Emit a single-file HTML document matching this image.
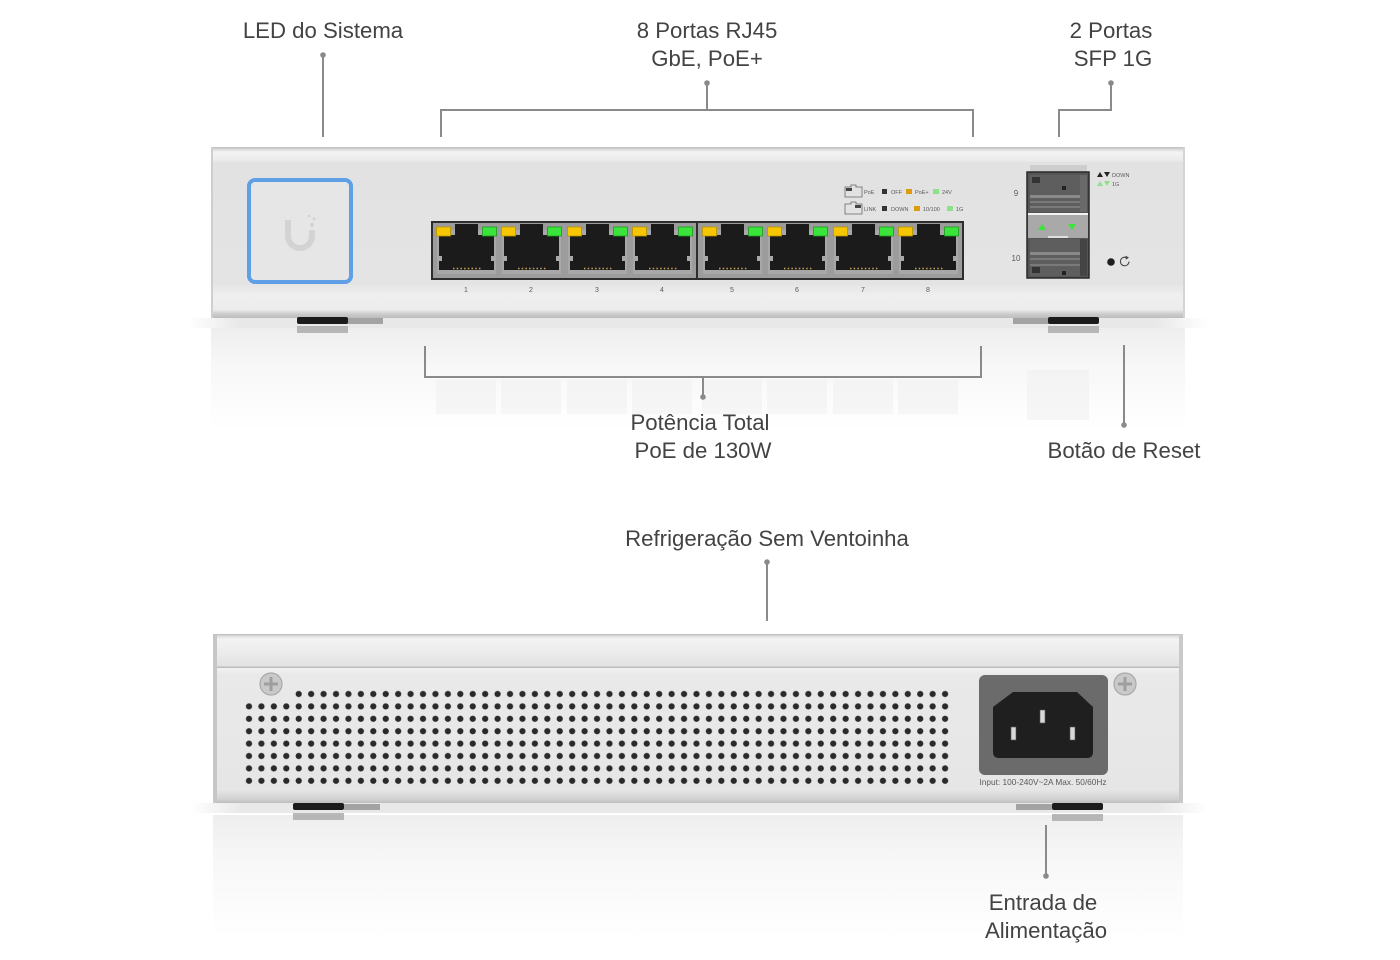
<!DOCTYPE html>
<html><head><meta charset="utf-8"><style>
html,body{margin:0;padding:0;background:#fff;}
svg{display:block;}
.lbl{font-family:"Liberation Sans",sans-serif;font-size:22.2px;fill:#434343;text-anchor:middle;}
.sm{font-family:"Liberation Sans",sans-serif;fill:#5a5a5a;}
</style></head><body>
<svg width="1400" height="960" viewBox="0 0 1400 960" xmlns="http://www.w3.org/2000/svg">
<defs>
  <linearGradient id="frontBody" x1="0" y1="147" x2="0" y2="318" gradientUnits="userSpaceOnUse">
    <stop offset="0" stop-color="#bdbdbd"/>
    <stop offset="0.015" stop-color="#dcdcdc"/>
    <stop offset="0.03" stop-color="#f3f3f3"/>
    <stop offset="0.075" stop-color="#ececec"/>
    <stop offset="0.09" stop-color="#e2e2e2"/>
    <stop offset="0.8" stop-color="#e4e4e4"/>
    <stop offset="0.87" stop-color="#efefef"/>
    <stop offset="0.95" stop-color="#ececec"/>
    <stop offset="0.98" stop-color="#c9c9c9"/>
    <stop offset="1" stop-color="#bdbdbd"/>
  </linearGradient>
  <linearGradient id="backTop" x1="0" y1="634" x2="0" y2="668" gradientUnits="userSpaceOnUse">
    <stop offset="0" stop-color="#b8b8b8"/>
    <stop offset="0.06" stop-color="#dedede"/>
    <stop offset="0.15" stop-color="#f3f3f3"/>
    <stop offset="0.6" stop-color="#ebebeb"/>
    <stop offset="0.93" stop-color="#e2e2e2"/>
    <stop offset="1" stop-color="#b2b2b2"/>
  </linearGradient>
  <linearGradient id="backPanel" x1="0" y1="668" x2="0" y2="803" gradientUnits="userSpaceOnUse">
    <stop offset="0" stop-color="#f2f2f2"/>
    <stop offset="0.05" stop-color="#e9e9e9"/>
    <stop offset="0.9" stop-color="#e6e6e6"/>
    <stop offset="0.97" stop-color="#d2d2d2"/>
    <stop offset="1" stop-color="#bdbdbd"/>
  </linearGradient>
  <linearGradient id="refl" x1="0" y1="0" x2="0" y2="1">
    <stop offset="0" stop-color="#eeeeee"/>
    <stop offset="0.35" stop-color="#f7f7f7"/>
    <stop offset="1" stop-color="#ffffff"/>
  </linearGradient>
  <linearGradient id="shadowH" x1="0" y1="0" x2="1" y2="0">
    <stop offset="0" stop-color="#ffffff"/>
    <stop offset="0.05" stop-color="#e3e3e3"/>
    <stop offset="0.95" stop-color="#e3e3e3"/>
    <stop offset="1" stop-color="#ffffff"/>
  </linearGradient>
  <pattern id="vent" x="242.8" y="687.8" width="12.43" height="12.4" patternUnits="userSpaceOnUse">
    <circle cx="6.2" cy="6.2" r="3.1" fill="#2a2a2a"/>
  </pattern>
</defs>

<!-- ========== TOP LABELS ========== -->
<text class="lbl" x="323" y="38">LED do Sistema</text>
<text class="lbl" x="707" y="38">8 Portas RJ45</text>
<text class="lbl" x="707" y="66">GbE, PoE+</text>
<text class="lbl" x="1111" y="38">2 Portas</text>
<text class="lbl" x="1113" y="66">SFP 1G</text>

<g stroke="#8a8a8a" stroke-width="2" fill="none">
  <line x1="323" y1="55" x2="323" y2="137"/>
  <line x1="707" y1="83" x2="707" y2="110"/>
  <polyline points="441,137 441,110 973,110 973,137"/>
  <polyline points="1111,83 1111,110 1059,110 1059,137"/>
</g>
<g fill="#8a8a8a">
  <circle cx="323" cy="55" r="2.8"/>
  <circle cx="707" cy="83" r="2.8"/>
  <circle cx="1111" cy="83" r="2.8"/>
</g>

<!-- ========== FRONT DEVICE ========== -->
<rect x="188" y="318" width="1020" height="10" fill="url(#shadowH)" opacity="0.8"/>
<rect x="211" y="328" width="974" height="102" fill="url(#refl)"/>
<g fill="#eeeeee" opacity="0.45">
  <rect x="436" y="380" width="60" height="34"/><rect x="501" y="380" width="60" height="34"/>
  <rect x="567" y="380" width="60" height="34"/><rect x="632" y="380" width="60" height="34"/>
  <rect x="702" y="380" width="60" height="34"/><rect x="767" y="380" width="60" height="34"/>
  <rect x="833" y="380" width="60" height="34"/><rect x="898" y="380" width="60" height="34"/>
  <rect x="1027" y="370" width="62" height="50"/>
</g>

<rect x="211" y="147" width="974" height="171" fill="url(#frontBody)"/>
<rect x="211" y="147" width="2" height="171" fill="#cfcfcf"/>
<rect x="1183" y="147" width="2" height="171" fill="#d4d4d4"/>

<!-- feet -->
<rect x="347" y="318" width="36" height="6" fill="#a3a3a3"/>
<rect x="297" y="317" width="51" height="7" rx="2" fill="#1b1b1b"/>
<rect x="297" y="326" width="51" height="7" fill="#a8a8a8" opacity="0.8"/>
<rect x="1013" y="318" width="36" height="6" fill="#a3a3a3"/>
<rect x="1048" y="317" width="51" height="7" rx="2" fill="#1b1b1b"/>
<rect x="1048" y="326" width="51" height="7" fill="#a8a8a8" opacity="0.8"/>

<!-- LED square -->
<rect x="249" y="180" width="102" height="102" rx="6" fill="#e6e6e6" stroke="#5e9fe6" stroke-width="4"/>
<path d="M288,220 V236 A12,12 0 0 0 312,236 V230" fill="none" stroke="#d3d3d3" stroke-width="6"/>
<g fill="#d3d3d3"><circle cx="312" cy="225" r="2"/><circle cx="314" cy="219" r="1.5"/><circle cx="309" cy="216" r="1.3"/></g>

<!-- port block -->
<rect x="432" y="222" width="265" height="57" fill="#9c9c9c" stroke="#2e2e2e" stroke-width="2"/>
<rect x="697" y="222" width="266" height="57" fill="#9c9c9c" stroke="#2e2e2e" stroke-width="2"/>
<g id="ports">
<g transform="translate(436,0)">
 <rect x="1" y="230" width="59" height="44" fill="#a8a8a8"/>
 <rect x="3" y="235" width="55" height="35" fill="#1b1b1b"/>
 <rect x="19" y="224" width="23" height="12" fill="#1b1b1b"/>
 <rect x="3" y="256" width="3" height="5" fill="#a8a8a8"/><rect x="55" y="256" width="3" height="5" fill="#a8a8a8"/>
 <line x1="17" y1="268.5" x2="46" y2="268.5" stroke="#c9a45a" stroke-width="1.5" stroke-dasharray="1.5,2.2"/>
 <rect x="0.5" y="227" width="14" height="9" fill="#f6c700" stroke="#b89400" stroke-width="0.8"/>
 <rect x="46.5" y="227" width="14" height="9" fill="#3be43b" stroke="#1f9a1f" stroke-width="0.8"/>
 <text class="sm" x="30" y="292" font-size="7" text-anchor="middle">1</text>
</g>
<g transform="translate(501,0)">
 <rect x="1" y="230" width="59" height="44" fill="#a8a8a8"/>
 <rect x="3" y="235" width="55" height="35" fill="#1b1b1b"/>
 <rect x="19" y="224" width="23" height="12" fill="#1b1b1b"/>
 <rect x="3" y="256" width="3" height="5" fill="#a8a8a8"/><rect x="55" y="256" width="3" height="5" fill="#a8a8a8"/>
 <line x1="17" y1="268.5" x2="46" y2="268.5" stroke="#c9a45a" stroke-width="1.5" stroke-dasharray="1.5,2.2"/>
 <rect x="0.5" y="227" width="14" height="9" fill="#f6c700" stroke="#b89400" stroke-width="0.8"/>
 <rect x="46.5" y="227" width="14" height="9" fill="#3be43b" stroke="#1f9a1f" stroke-width="0.8"/>
 <text class="sm" x="30" y="292" font-size="7" text-anchor="middle">2</text>
</g>
<g transform="translate(567,0)">
 <rect x="1" y="230" width="59" height="44" fill="#a8a8a8"/>
 <rect x="3" y="235" width="55" height="35" fill="#1b1b1b"/>
 <rect x="19" y="224" width="23" height="12" fill="#1b1b1b"/>
 <rect x="3" y="256" width="3" height="5" fill="#a8a8a8"/><rect x="55" y="256" width="3" height="5" fill="#a8a8a8"/>
 <line x1="17" y1="268.5" x2="46" y2="268.5" stroke="#c9a45a" stroke-width="1.5" stroke-dasharray="1.5,2.2"/>
 <rect x="0.5" y="227" width="14" height="9" fill="#f6c700" stroke="#b89400" stroke-width="0.8"/>
 <rect x="46.5" y="227" width="14" height="9" fill="#3be43b" stroke="#1f9a1f" stroke-width="0.8"/>
 <text class="sm" x="30" y="292" font-size="7" text-anchor="middle">3</text>
</g>
<g transform="translate(632,0)">
 <rect x="1" y="230" width="59" height="44" fill="#a8a8a8"/>
 <rect x="3" y="235" width="55" height="35" fill="#1b1b1b"/>
 <rect x="19" y="224" width="23" height="12" fill="#1b1b1b"/>
 <rect x="3" y="256" width="3" height="5" fill="#a8a8a8"/><rect x="55" y="256" width="3" height="5" fill="#a8a8a8"/>
 <line x1="17" y1="268.5" x2="46" y2="268.5" stroke="#c9a45a" stroke-width="1.5" stroke-dasharray="1.5,2.2"/>
 <rect x="0.5" y="227" width="14" height="9" fill="#f6c700" stroke="#b89400" stroke-width="0.8"/>
 <rect x="46.5" y="227" width="14" height="9" fill="#3be43b" stroke="#1f9a1f" stroke-width="0.8"/>
 <text class="sm" x="30" y="292" font-size="7" text-anchor="middle">4</text>
</g>
<g transform="translate(702,0)">
 <rect x="1" y="230" width="59" height="44" fill="#a8a8a8"/>
 <rect x="3" y="235" width="55" height="35" fill="#1b1b1b"/>
 <rect x="19" y="224" width="23" height="12" fill="#1b1b1b"/>
 <rect x="3" y="256" width="3" height="5" fill="#a8a8a8"/><rect x="55" y="256" width="3" height="5" fill="#a8a8a8"/>
 <line x1="17" y1="268.5" x2="46" y2="268.5" stroke="#c9a45a" stroke-width="1.5" stroke-dasharray="1.5,2.2"/>
 <rect x="0.5" y="227" width="14" height="9" fill="#f6c700" stroke="#b89400" stroke-width="0.8"/>
 <rect x="46.5" y="227" width="14" height="9" fill="#3be43b" stroke="#1f9a1f" stroke-width="0.8"/>
 <text class="sm" x="30" y="292" font-size="7" text-anchor="middle">5</text>
</g>
<g transform="translate(767,0)">
 <rect x="1" y="230" width="59" height="44" fill="#a8a8a8"/>
 <rect x="3" y="235" width="55" height="35" fill="#1b1b1b"/>
 <rect x="19" y="224" width="23" height="12" fill="#1b1b1b"/>
 <rect x="3" y="256" width="3" height="5" fill="#a8a8a8"/><rect x="55" y="256" width="3" height="5" fill="#a8a8a8"/>
 <line x1="17" y1="268.5" x2="46" y2="268.5" stroke="#c9a45a" stroke-width="1.5" stroke-dasharray="1.5,2.2"/>
 <rect x="0.5" y="227" width="14" height="9" fill="#f6c700" stroke="#b89400" stroke-width="0.8"/>
 <rect x="46.5" y="227" width="14" height="9" fill="#3be43b" stroke="#1f9a1f" stroke-width="0.8"/>
 <text class="sm" x="30" y="292" font-size="7" text-anchor="middle">6</text>
</g>
<g transform="translate(833,0)">
 <rect x="1" y="230" width="59" height="44" fill="#a8a8a8"/>
 <rect x="3" y="235" width="55" height="35" fill="#1b1b1b"/>
 <rect x="19" y="224" width="23" height="12" fill="#1b1b1b"/>
 <rect x="3" y="256" width="3" height="5" fill="#a8a8a8"/><rect x="55" y="256" width="3" height="5" fill="#a8a8a8"/>
 <line x1="17" y1="268.5" x2="46" y2="268.5" stroke="#c9a45a" stroke-width="1.5" stroke-dasharray="1.5,2.2"/>
 <rect x="0.5" y="227" width="14" height="9" fill="#f6c700" stroke="#b89400" stroke-width="0.8"/>
 <rect x="46.5" y="227" width="14" height="9" fill="#3be43b" stroke="#1f9a1f" stroke-width="0.8"/>
 <text class="sm" x="30" y="292" font-size="7" text-anchor="middle">7</text>
</g>
<g transform="translate(898,0)">
 <rect x="1" y="230" width="59" height="44" fill="#a8a8a8"/>
 <rect x="3" y="235" width="55" height="35" fill="#1b1b1b"/>
 <rect x="19" y="224" width="23" height="12" fill="#1b1b1b"/>
 <rect x="3" y="256" width="3" height="5" fill="#a8a8a8"/><rect x="55" y="256" width="3" height="5" fill="#a8a8a8"/>
 <line x1="17" y1="268.5" x2="46" y2="268.5" stroke="#c9a45a" stroke-width="1.5" stroke-dasharray="1.5,2.2"/>
 <rect x="0.5" y="227" width="14" height="9" fill="#f6c700" stroke="#b89400" stroke-width="0.8"/>
 <rect x="46.5" y="227" width="14" height="9" fill="#3be43b" stroke="#1f9a1f" stroke-width="0.8"/>
 <text class="sm" x="30" y="292" font-size="7" text-anchor="middle">8</text>
</g>
</g>

<!-- legend -->
<g font-size="5.5">
  <path d="M845,187 h6 v-2 h5 v2 h6 v10 h-17 z" fill="none" stroke="#666" stroke-width="0.8"/>
  <rect x="846" y="188" width="6" height="3" fill="#444"/>
  <text class="sm" x="864" y="194">PoE</text>
  <rect x="882" y="189" width="5" height="5" fill="#333"/>
  <text class="sm" x="891" y="194">OFF</text>
  <rect x="906" y="189" width="6" height="5" fill="#e09a10"/>
  <text class="sm" x="915" y="194">PoE+</text>
  <rect x="933" y="189" width="6" height="5" fill="#8ee08a"/>
  <text class="sm" x="942" y="194">24V</text>

  <path d="M845,204 h6 v-2 h5 v2 h6 v10 h-17 z" fill="none" stroke="#666" stroke-width="0.8"/>
  <rect x="855" y="205" width="6" height="3" fill="#444"/>
  <text class="sm" x="864" y="211">LINK</text>
  <rect x="882" y="206" width="5" height="5" fill="#333"/>
  <text class="sm" x="891" y="211">DOWN</text>
  <rect x="914" y="206" width="6" height="5" fill="#e09a10"/>
  <text class="sm" x="923" y="211">10/100</text>
  <rect x="947" y="206" width="6" height="5" fill="#8ee08a"/>
  <text class="sm" x="956" y="211">1G</text>
</g>

<!-- SFP -->
<rect x="1030" y="165" width="57" height="8" fill="#cdcdcd"/>
<rect x="1027" y="172" width="62" height="106" fill="#555" stroke="#2a2a2a" stroke-width="1.5"/>
<g>
  <rect x="1030" y="175" width="50" height="37" fill="#5e5e5e"/>
  <rect x="1080" y="175" width="7" height="37" fill="#6a6a6a"/>
  <rect x="1030" y="195" width="50" height="3" fill="#8a8a8a"/>
  <rect x="1030" y="201" width="50" height="2" fill="#7a7a7a"/>
  <rect x="1030" y="206" width="50" height="2" fill="#7a7a7a"/>
  <rect x="1032" y="177" width="8" height="6" fill="#333"/>
  <rect x="1062" y="186" width="4" height="4" fill="#222"/>
  <rect x="1030" y="239" width="50" height="37" fill="#5e5e5e"/>
  <rect x="1080" y="239" width="7" height="37" fill="#444"/>
  <rect x="1030" y="252" width="50" height="3" fill="#8a8a8a"/>
  <rect x="1030" y="258" width="50" height="2" fill="#7a7a7a"/>
  <rect x="1030" y="264" width="50" height="2" fill="#7a7a7a"/>
  <rect x="1032" y="267" width="8" height="6" fill="#333"/>
  <rect x="1062" y="271" width="4" height="4" fill="#222"/>
</g>
<rect x="1028" y="213" width="60" height="25" fill="#a9a9a9"/>
<rect x="1028" y="213" width="60" height="2" fill="#f2f2f2"/>
<rect x="1048" y="236" width="20" height="2" fill="#e0e0e0"/>
<polygon points="1038,230 1042,224 1046,230" fill="#3be43b"/>
<polygon points="1068,224 1076,224 1072,230" fill="#3be43b"/>
<text class="sm" x="1016" y="196" font-size="8" text-anchor="middle">9</text>
<text class="sm" x="1016" y="261" font-size="8" text-anchor="middle">10</text>
<g font-size="5.5">
  <polygon points="1097,177 1100,172 1103,177" fill="#222"/>
  <polygon points="1104,172 1110,172 1107,177" fill="#222"/>
  <text class="sm" x="1112" y="177">DOWN</text>
  <polygon points="1097,186 1100,181 1103,186" fill="#8ee08a"/>
  <polygon points="1104,181 1110,181 1107,186" fill="#8ee08a"/>
  <text class="sm" x="1112" y="186">1G</text>
</g>
<circle cx="1111" cy="262" r="3.8" fill="#1e1e1e"/>
<path d="M1129,261.5 A4.3,4.3 0 1 1 1126.5,257.6" fill="none" stroke="#444" stroke-width="1"/>
<polygon points="1125.5,255.6 1129,257.6 1125.8,259.6" fill="#444"/>

<!-- bottom front labels -->
<g stroke="#8a8a8a" stroke-width="2" fill="none">
  <polyline points="425,346 425,377 981,377 981,346"/>
  <line x1="703" y1="377" x2="703" y2="397"/>
  <line x1="1124" y1="345" x2="1124" y2="425"/>
</g>
<circle cx="703" cy="397" r="2.8" fill="#8a8a8a"/>
<circle cx="1124" cy="425" r="2.8" fill="#8a8a8a"/>
<text class="lbl" x="700" y="430">Potência Total</text>
<text class="lbl" x="703" y="458">PoE de 130W</text>
<text class="lbl" x="1124" y="458">Botão de Reset</text>

<!-- ========== BACK ========== -->
<text class="lbl" x="767" y="546">Refrigeração Sem Ventoinha</text>
<line x1="767" y1="562" x2="767" y2="621" stroke="#8a8a8a" stroke-width="2"/>
<circle cx="767" cy="562" r="2.8" fill="#8a8a8a"/>

<rect x="190" y="803" width="1018" height="10" fill="url(#shadowH)" opacity="0.8"/>
<rect x="213" y="815" width="970" height="122" fill="url(#refl)"/>

<rect x="213" y="634" width="970" height="34" fill="url(#backTop)"/>
<rect x="213" y="668" width="970" height="135" fill="url(#backPanel)"/>
<rect x="213" y="634" width="4" height="169" fill="#c6c6c6"/>
<rect x="1179" y="634" width="4" height="169" fill="#c9c9c9"/>

<!-- feet -->
<rect x="344" y="804" width="36" height="6" fill="#a3a3a3"/>
<rect x="293" y="803" width="51" height="7" rx="2" fill="#1b1b1b"/>
<rect x="293" y="813" width="51" height="7" fill="#a8a8a8" opacity="0.8"/>
<rect x="1016" y="804" width="36" height="6" fill="#a3a3a3"/>
<rect x="1052" y="803" width="51" height="7" rx="2" fill="#1b1b1b"/>
<rect x="1052" y="814" width="51" height="7" fill="#a8a8a8" opacity="0.8"/>

<!-- screws -->
<g>
  <circle cx="271" cy="684" r="11" fill="#c9c9c9" stroke="#a9a9a9" stroke-width="1.2"/>
  <path d="M271,677 v14 M264,684 h14" stroke="#9e9e9e" stroke-width="3"/>
  <circle cx="1125" cy="684" r="11" fill="#c9c9c9" stroke="#a9a9a9" stroke-width="1.2"/>
  <path d="M1125,677 v14 M1118,684 h14" stroke="#9e9e9e" stroke-width="3"/>
</g>

<!-- vents: 8 rows -->
<rect x="292.5" y="687.8" width="658.9" height="12.4" fill="url(#vent)"/>
<rect x="242.8" y="700.2" width="708.6" height="86.8" fill="url(#vent)"/>

<!-- power inlet -->
<rect x="979" y="675" width="129" height="100" rx="6" fill="#6b6b6b"/>
<path d="M1013,692 L1077,692 L1093,707 L1093,752 Q1093,758 1087,758 L999,758 Q993,758 993,752 L993,707 Z" fill="#1f1f1f"/>
<rect x="1040" y="710" width="5" height="13" fill="#d8d8d8" stroke="#555" stroke-width="0.6"/>
<rect x="1011" y="727" width="5" height="13" fill="#d8d8d8" stroke="#555" stroke-width="0.6"/>
<rect x="1070" y="727" width="5" height="13" fill="#d8d8d8" stroke="#555" stroke-width="0.6"/>
<text class="sm" x="1043" y="785" font-size="8.3" text-anchor="middle">Input: 100-240V~2A Max. 50/60Hz</text>

<!-- power label -->
<line x1="1046" y1="825" x2="1046" y2="876" stroke="#8a8a8a" stroke-width="2"/>
<circle cx="1046" cy="876" r="2.8" fill="#8a8a8a"/>
<text class="lbl" x="1043" y="910">Entrada de</text>
<text class="lbl" x="1046" y="938">Alimentação</text>
</svg>
</body></html>
